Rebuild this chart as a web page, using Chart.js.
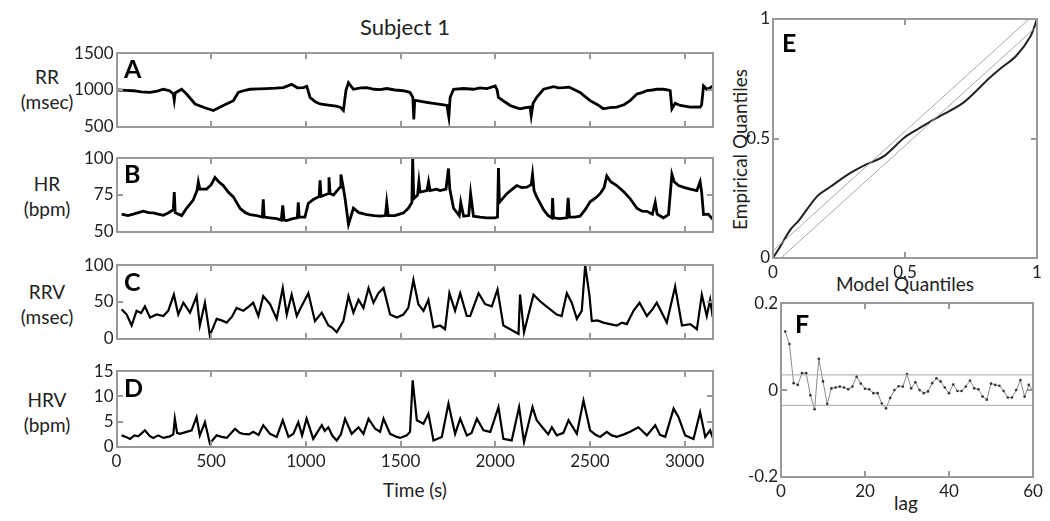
<!DOCTYPE html>
<html>
<head>
<meta charset="utf-8">
<script src="https://cdn.jsdelivr.net/npm/chart.js@4.4.0/dist/chart.umd.min.js"></script>
<style>
  body { margin: 0; background: #fff; font-family: Lato, sans-serif; color: #222; }
  #page { position: relative; width: 1050px; height: 521px; overflow: hidden; }
  canvas { position: absolute; }
  .lbl { position: absolute; text-align: center; font-size: 19px; line-height: 25px; white-space: nowrap; }
</style>
</head>
<body>
<div id="page">
  <div class="lbl" style="left:305px; top:14px; width:200px; font-size:22px;">Subject 1</div>
  <div class="lbl" style="left:0; top:64px; width:94px;">RR<br>(msec)</div>
  <div class="lbl" style="left:0; top:171px; width:94px;">HR<br>(bpm)</div>
  <div class="lbl" style="left:0; top:279px; width:94px;">RRV<br>(msec)</div>
  <div class="lbl" style="left:0; top:387px; width:94px;">HRV<br>(bpm)</div>
  <div class="lbl" style="left:315px; top:477px; width:200px;">Time (s)</div>
  <div class="lbl" style="left:805px; top:271px; width:200px;">Model Quantiles</div>
  <div class="lbl" style="left:639px; top:137px; width:200px; transform:rotate(-90deg);">Empirical Quantiles</div>
  <div class="lbl" style="left:856px; top:490px; width:100px;">lag</div>

  <canvas id="chartA" width="730" height="100" style="left:0; top:40px;"></canvas>
  <canvas id="chartB" width="730" height="100" style="left:0; top:145px;"></canvas>
  <canvas id="chartC" width="730" height="100" style="left:0; top:252px;"></canvas>
  <canvas id="chartD" width="730" height="120" style="left:0; top:358px;"></canvas>
  <canvas id="chartE" width="330" height="300" style="left:720px; top:0;"></canvas>
  <canvas id="chartF" width="330" height="231" style="left:720px; top:290px;"></canvas>
</div>

<script>
// ---- data ----
const timeTicks = [0, 500, 1000, 1500, 2000, 2500, 3000];

const rrTicks = [500, 1000, 1500];
const rrTime = [7,50,89,130,177,215,247,280,300,305,310,344,370,415,459,511,540,564,617,643,670,705,750,793,840,881,925,955,987,1005,1022,1050,1075,1100,1128,1160,1181,1198,1212,1225,1251,1290,1322,1360,1392,1427,1470,1515,1550,1565,1570,1575,1586,1638,1692,1720,1745,1755,1762,1780,1833,1885,1920,1956,2000,2010,2017,2050,2079,2110,2131,2160,2184,2190,2200,2219,2255,2308,2335,2360,2390,2413,2448,2475,2501,2540,2571,2605,2642,2680,2712,2748,2770,2801,2830,2853,2888,2915,2924,2933,2950,2977,3000,3030,3060,3082,3090,3100,3117,3135,3149];
const rrValue = [1000,995,990,975,967,985,1010,990,945,860,960,1010,945,810,765,722,760,790,855,967,990,1010,1015,1020,1025,1033,1077,1030,1033,1050,900,840,810,800,790,780,767,722,1000,1100,1010,1030,1033,1010,1005,1020,1000,990,967,900,600,860,855,833,810,800,790,633,900,1010,1020,1010,1030,1020,1055,1000,900,840,790,760,745,760,767,650,820,900,1010,1045,1030,1033,1040,1010,967,910,855,800,745,760,767,800,855,945,960,990,1000,1010,1010,1000,990,745,820,790,780,767,770,767,800,1055,1010,1030,1055];

const hrTicks = [50, 75, 100];
const hrTime = [27,60,89,115,141,170,194,220,247,275,300,305,310,344,370,405,425,432,440,476,500,520,540,564,590,617,652,680,705,740,770,775,780,810,846,870,878,885,898,930,955,960,965,995,1013,1040,1070,1075,1080,1100,1119,1122,1128,1146,1165,1181,1185,1195,1207,1225,1251,1280,1322,1360,1392,1420,1427,1435,1470,1515,1541,1560,1564,1570,1590,1597,1603,1640,1648,1656,1690,1709,1740,1753,1760,1780,1810,1818,1833,1860,1870,1885,1920,1956,2000,2012,2017,2022,2061,2090,2114,2140,2167,2190,2197,2205,2219,2255,2280,2299,2303,2308,2340,2378,2385,2392,2420,2448,2475,2501,2530,2554,2575,2589,2610,2642,2680,2712,2748,2775,2801,2830,2845,2855,2888,2915,2933,2945,2968,3000,3030,3065,3082,3090,3100,3125,3149];
const hrValue = [62,61,62,63,64,63,62.8,62,61.2,63,65,77,63,61,66,71.5,78,84,79,79,82,86.9,84,81.4,77,73.7,66,63,61.7,61,60,72,60,59.5,59,58,68,58,57.7,59,59.5,70,60,60,69.3,72,74,85,74,75,76,87,76,75,78,80.3,89,82,72.6,55,66,63,61.7,61,60.6,61,70,61,61,62.8,66,70,100,72.6,75,84,77,78,84,78,79,78,79,93,79,66,61,70,60.6,61,76,60.6,60,59.5,59.5,60,93.4,70,75.9,79,81.4,80,80.3,82,89,78,73.7,65,61,59.5,73,59.5,59,59.5,73,60,60,60.6,65,70.4,73,75.9,80,88,84,81.4,77,72.6,66,64,63.9,62,70,62,59.5,61.7,89,84,81.4,80,79,78,84,77,61.7,62,58.4];

const rrvTicks = [0, 50, 100];
const rrvTime = [27,54,80,106,130,150,177,212,247,273,303,326,353,388,423,440,467,493,529,555,582,610,634,669,700,722,749,775,811,846,878,899,925,952,969,1013,1048,1084,1119,1140,1163,1198,1225,1251,1278,1304,1331,1357,1383,1410,1445,1480,1515,1541,1568,1594,1621,1647,1674,1709,1735,1758,1788,1815,1850,1868,1912,1947,1982,2012,2043,2079,2123,2131,2152,2202,2237,2265,2290,2325,2351,2378,2404,2431,2457,2475,2498,2510,2540,2571,2605,2642,2670,2695,2730,2762,2801,2830,2853,2906,2950,2986,3030,3065,3091,3117,3135,3149];
const rrvValue = [40,33,18,38,35,44,29,33,31,38,60,33,49,35.5,58,18,49,4.4,27,25,22,30,42,38,44,49,31,58,47,27,69,33,60,31,40,62,24,35.5,18,15,9,24,58,35.5,53,42,69,49,62,69,33,29,33,42,80,47,38,53,15.5,18,13,62,38,62,31,31,62,47,44,67,18,13,6.7,60,9,60,51,45,40,33,31,62,49,27,38,100,58,24,25,22,20,18,22,20,38,49,31,40,49,22,71,18,20,13,60,31,53,29];

const hrvTicks = [0, 5, 10, 15];
const hrvTime = [27,50,71,95,115,150,175,194,220,247,282,300,308,320,335,370,397,423,440,467,493,529,555,582,626,650,669,700,722,750,775,811,846,878,908,934,960,980,1004,1039,1084,1100,1119,1140,1163,1185,1207,1242,1278,1304,1331,1366,1392,1410,1445,1480,1498,1533,1550,1564,1586,1621,1647,1674,1718,1753,1788,1815,1850,1875,1903,1938,1974,2017,2043,2087,2126,2152,2197,2219,2255,2280,2299,2325,2360,2387,2431,2466,2501,2530,2554,2589,2615,2642,2680,2712,2756,2801,2845,2870,2898,2942,2968,3003,3047,3082,3109,3135,3149];
const hrvValue = [2.3,2.0,1.6,2.3,2.1,3.3,2.2,1.8,2.3,1.8,2.1,2.5,5.6,2.8,2.6,3.0,3.3,5.9,2.3,4.9,0.7,2.3,2.0,1.8,3.6,2.8,2.6,2.5,3.0,2.4,4.3,2.6,2.0,5.3,2.0,2.6,4.9,2.3,5.6,1.6,4.3,3.2,3.9,2.2,1.3,2.5,5.6,2.6,3.9,2.6,5.6,3.6,3.0,5.6,2.6,2.0,1.8,2.3,3.0,13.2,5.3,4.6,6.6,1.3,2.0,8.6,2.6,5.6,2.3,2.8,5.6,3.3,3.0,7.9,1.6,1.3,7.9,1.0,7.9,5.3,3.6,2.5,3.9,2.3,2.8,5.3,2.6,9.2,3.3,2.4,2.0,3.0,2.3,2.0,2.5,3.0,3.9,2.3,4.3,2.4,2.0,7.6,5.9,2.3,1.6,6.9,2.0,3.3,1.8];

// KS plot (E)
const quantileTicks = [0, 0.5, 1];
const modelQuantiles = [0,0.028,0.066,0.10,0.167,0.22,0.293,0.35,0.419,0.5,0.55,0.62,0.72,0.82,0.87,0.92,0.975,1];
const empiricalQuantiles = [0,0.049,0.119,0.16,0.258,0.30,0.356,0.39,0.425,0.506,0.54,0.586,0.649,0.753,0.80,0.844,0.927,1];
const ksBound = 0.03;

// autocorrelation (F)
const lagTicks = [0, 20, 40, 60];
const acfTicks = [-0.2, 0, 0.2];
const lags = [];
for (let i = 1; i <= 60; i++) lags.push(i);
const acf = [0.135,0.106,0.016,0.012,0.039,0.039,-0.012,-0.044,0.072,0.020,-0.032,0.004,0.006,0.008,0.006,0.002,0.008,0.031,0.015,0.003,0.002,-0.007,-0.007,-0.031,-0.042,-0.018,0.0,0.009,0.008,0.037,0.004,0.018,0.0,-0.007,-0.003,0.016,0.027,0.020,0.006,-0.007,0.013,-0.002,-0.002,0.008,0.022,0.004,0.002,-0.015,-0.022,0.015,0.012,0.010,-0.002,-0.017,-0.017,0.0,0.023,-0.015,0.012,-0.001];
const acfBound = 0.035;

// ---- drawing ----
const FONT = 'Lato, sans-serif';
const FRAME_COLOR = '#9a9a9a';

// MATLAB style box with inward ticks and a panel letter
// (2px wide so the thin grey box survives the screenshot)
const frameTicks = {
    id: 'frameTicks',
    afterDraw(chart, args, opts) {
        const ctx = chart.ctx;
        const a = chart.chartArea;
        const xs = chart.scales.x, ys = chart.scales.y;
        const L = Math.round(a.left), R = Math.round(a.right);
        const T = Math.round(a.top), B = Math.round(a.bottom);
        ctx.save();
        ctx.fillStyle = FRAME_COLOR;
        ctx.fillRect(L - 1, T - 1, R - L + 2, 2);
        ctx.fillRect(L - 1, B - 1, R - L + 2, 2);
        ctx.fillRect(L - 1, T - 1, 2, B - T + 2);
        ctx.fillRect(R - 1, T - 1, 2, B - T + 2);
        xs.ticks.forEach(t => {
            const p = Math.round(xs.getPixelForValue(t.value));
            ctx.fillRect(p - 1, B - 6, 2, 5);
            ctx.fillRect(p - 1, T + 1, 2, 5);
        });
        ys.ticks.forEach(t => {
            const p = Math.round(ys.getPixelForValue(t.value));
            ctx.fillRect(L + 1, p - 1, 5, 2);
            ctx.fillRect(R - 6, p - 1, 5, 2);
        });
        if (opts.letter) {
            ctx.fillStyle = '#000';
            ctx.font = 'bold 25px ' + FONT;
            ctx.textBaseline = 'alphabetic';
            ctx.fillText(opts.letter, a.left + opts.lx, a.top + opts.ly);
        }
        ctx.restore();
    }
};
Chart.register(frameTicks);

const tickFont = { family: FONT, size: 17 };

function toPoints(xs, ys) {
    return xs.map((x, i) => ({ x: x, y: ys[i] }));
}

function fixedTicks(values) {
    return scale => { scale.ticks = values.map(v => ({ value: v })); };
}

function axis(min, max, tickValues, size, isX, fmt) {
    return {
        type: 'linear', min: min, max: max,
        grid: { display: false, drawTicks: false }, border: { display: false },
        ticks: { padding: isX ? 4 : 3, maxRotation: 0, autoSkip: false, color: '#222', font: tickFont,
                 callback: fmt || (v => String(v)) },
        afterBuildTicks: fixedTicks(tickValues),
        afterFit: isX ? (s => { s.height = size; }) : (s => { s.width = size; })
    };
}

function timePanel(id, times, values, yTicks, letter, ly, showX, lw, pad) {
    const x = axis(0, 3150, timeTicks, showX ? 31 : 0, true);
    x.display = showX;
    return new Chart(document.getElementById(id), {
        type: 'line',
        data: {
            datasets: [{
                data: toPoints(times, values),
                borderColor: '#000',
                borderWidth: lw,
                pointRadius: 0,
                tension: 0
            }]
        },
        options: {
            responsive: false,
            animation: false,
            layout: { padding: pad },
            plugins: {
                legend: { display: false },
                tooltip: { enabled: false },
                frameTicks: { letter: letter, lx: 7.5, ly: ly }
            },
            scales: {
                x: x,
                y: axis(yTicks[0], yTicks[yTicks.length - 1], yTicks, 116.5, false)
            }
        }
    });
}

timePanel('chartA', rrTime, rrValue, rrTicks, 'A', 25, false, 2.8, { top: 13, right: 17, bottom: 12, left: 0 });
timePanel('chartB', hrTime, hrValue, hrTicks, 'B', 25, false, 2.8, { top: 13, right: 17, bottom: 11, left: 0 });
timePanel('chartC', rrvTime, rrvValue, rrvTicks, 'C', 26, false, 2.2, { top: 13, right: 17, bottom: 12, left: 0 });
timePanel('chartD', hrvTime, hrvValue, hrvTicks, 'D', 26, true, 2.2, { top: 13, right: 17, bottom: 0, left: 0 });

// E: KS plot
new Chart(document.getElementById('chartE'), {
    type: 'scatter',
    data: {
        datasets: [
            { data: [{ x: 0, y: ksBound }, { x: 1 - ksBound, y: 1 }], showLine: true, borderColor: '#a8a8a8', borderWidth: 1, pointRadius: 0 },
            { data: [{ x: ksBound, y: 0 }, { x: 1, y: 1 - ksBound }], showLine: true, borderColor: '#a8a8a8', borderWidth: 1, pointRadius: 0 },
            { data: toPoints(modelQuantiles, empiricalQuantiles), showLine: true, borderColor: '#222', borderWidth: 2, pointRadius: 0, tension: 0.3 }
        ]
    },
    options: {
        responsive: false,
        animation: false,
        layout: { padding: { top: 19, right: 13, bottom: 0, left: 0 } },
        plugins: {
            legend: { display: false },
            tooltip: { enabled: false },
            frameTicks: { letter: 'E', lx: 9, ly: 33 }
        },
        scales: {
            x: axis(0, 1, quantileTicks, 42, true),
            y: axis(0, 1, quantileTicks, 53, false)
        }
    }
});

// F: autocorrelation of residuals
new Chart(document.getElementById('chartF'), {
    type: 'scatter',
    data: {
        datasets: [
            { data: [{ x: 0, y: acfBound }, { x: 60, y: acfBound }], showLine: true, borderColor: '#a8a8a8', borderWidth: 1, pointRadius: 0 },
            { data: [{ x: 0, y: -acfBound }, { x: 60, y: -acfBound }], showLine: true, borderColor: '#a8a8a8', borderWidth: 1, pointRadius: 0 },
            { data: toPoints(lags, acf), showLine: true, borderColor: '#8a8a8a', borderWidth: 1,
              pointRadius: 1.3, pointBackgroundColor: '#333', pointBorderWidth: 0 }
        ]
    },
    options: {
        responsive: false,
        animation: false,
        layout: { padding: { top: 13, right: 17, bottom: 0, left: 0 } },
        plugins: {
            legend: { display: false },
            tooltip: { enabled: false },
            frameTicks: { letter: 'F', lx: 14, ly: 30 }
        },
        scales: {
            x: axis(0, 60, lagTicks, 44, true),
            y: axis(-0.2, 0.2, acfTicks, 61, false, v => String(Math.round(v * 10) / 10))
        }
    }
});
</script>
</body>
</html>
